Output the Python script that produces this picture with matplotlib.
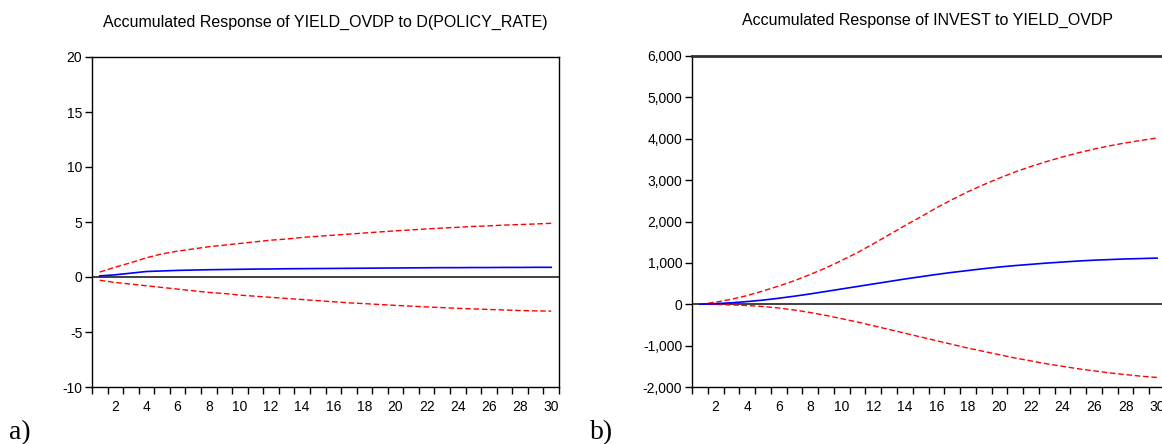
import numpy as np
import matplotlib
matplotlib.use('Agg')
from matplotlib import pyplot as plt
from matplotlib.ticker import FixedLocator, FuncFormatter

periods = np.arange(1, 31)

# a) accumulated response of YIELD_OVDP to D(POLICY_RATE)
yield_resp = [0.10, 0.20, 0.35, 0.50, 0.55, 0.60, 0.63, 0.66, 0.68, 0.70,
              0.72, 0.73, 0.75, 0.76, 0.77, 0.78, 0.79, 0.80, 0.81, 0.82,
              0.83, 0.84, 0.85, 0.85, 0.86, 0.86, 0.87, 0.87, 0.88, 0.88]
yield_upper = [0.45, 0.90, 1.30, 1.75, 2.10, 2.35, 2.55, 2.75, 2.90, 3.05,
               3.20, 3.35, 3.45, 3.60, 3.70, 3.80, 3.90, 4.00, 4.10, 4.20,
               4.28, 4.37, 4.45, 4.52, 4.60, 4.65, 4.72, 4.77, 4.82, 4.88]
yield_lower = [-0.30, -0.50, -0.65, -0.80, -0.95, -1.10, -1.25, -1.40, -1.50, -1.65,
               -1.75, -1.85, -1.95, -2.05, -2.15, -2.25, -2.35, -2.42, -2.50, -2.58,
               -2.65, -2.72, -2.78, -2.85, -2.90, -2.95, -3.00, -3.05, -3.08, -3.10]

# b) accumulated response of INVEST to YIELD_OVDP
invest_resp = [0, 15, 35, 65, 100, 145, 195, 250, 310, 370,
               430, 490, 550, 610, 665, 720, 770, 815, 860, 900,
               935, 965, 995, 1020, 1045, 1065, 1080, 1095, 1105, 1115]
invest_upper = [0, 50, 120, 210, 320, 440, 570, 720, 880, 1060,
                1250, 1460, 1680, 1900, 2110, 2330, 2530, 2720, 2890, 3050,
                3200, 3330, 3450, 3560, 3660, 3750, 3830, 3900, 3960, 4020]
invest_lower = [0, -5, -15, -30, -55, -90, -140, -200, -270, -350,
                -430, -520, -610, -700, -790, -880, -970, -1060, -1140, -1220,
                -1300, -1370, -1440, -1500, -1560, -1610, -1660, -1700, -1740, -1770]

W, H = 1162, 444
fig = plt.figure(figsize=(W / 100, H / 100), dpi=100)
plt.rcParams['font.family'] = ['Liberation Sans', 'DejaVu Sans']


def px_axes(x0, x1, y0, y1):
    return fig.add_axes([x0 / W, 1 - y1 / H, (x1 - x0) / W, (y1 - y0) / H])


def style(ax, ylim, yticks, fmt):
    ax.set_xlim(0.5, 30.5)
    ax.set_ylim(*ylim)
    ax.axhline(0, color='#404040', lw=1.4, zorder=1)
    ax.xaxis.set_major_locator(FixedLocator(np.arange(2, 31, 2)))
    ax.xaxis.set_minor_locator(FixedLocator(np.arange(0.5, 31, 1)))
    ax.tick_params(axis='x', which='major', length=0, pad=9, labelsize=10)
    ax.tick_params(axis='x', which='minor', length=5, width=1, direction='out')
    ax.set_yticks(yticks)
    ax.yaxis.set_major_formatter(FuncFormatter(fmt))
    ax.tick_params(axis='y', length=5, width=1, direction='out', pad=2, labelsize=10)
    for s in ax.spines.values():
        s.set_linewidth(1)


def draw(ax, resp, upper, lower):
    ax.plot(periods, resp, color='blue', lw=1.2, zorder=3)
    ax.plot(periods, upper, color='red', lw=1, ls=(0, (4, 2)), zorder=2)
    ax.plot(periods, lower, color='red', lw=1, ls=(0, (4, 2)), zorder=2)


ax1 = px_axes(92, 559, 57, 387)
draw(ax1, yield_resp, yield_upper, yield_lower)
style(ax1, (-10, 20), [-10, -5, 0, 5, 10, 15, 20], lambda v, p: f'{int(v)}')

ax2 = px_axes(692, 1165, 56, 387)
draw(ax2, invest_resp, invest_upper, invest_lower)
style(ax2, (-2000, 6000), np.arange(-2000, 6001, 1000), lambda v, p: f'{int(v):,}')
ax2.spines['top'].set_linewidth(2)
ax2.spines['top'].set_color('#303030')

fig.text(325 / W, 1 - 22 / H, 'Accumulated Response of YIELD_OVDP to D(POLICY_RATE)',
         ha='center', va='center', fontsize=11.5)
fig.text(928 / W, 1 - 20 / H, 'Accumulated Response of INVEST to YIELD_OVDP',
         ha='center', va='center', fontsize=11.5)

fig.text(9 / W, 1 - 433 / H, 'a)', ha='left', va='center', fontsize=20,
         family=['Liberation Serif', 'DejaVu Serif'])
fig.text(590 / W, 1 - 433 / H, 'b)', ha='left', va='center', fontsize=20,
         family=['Liberation Serif', 'DejaVu Serif'])

fig.savefig('out.png', dpi=100)
